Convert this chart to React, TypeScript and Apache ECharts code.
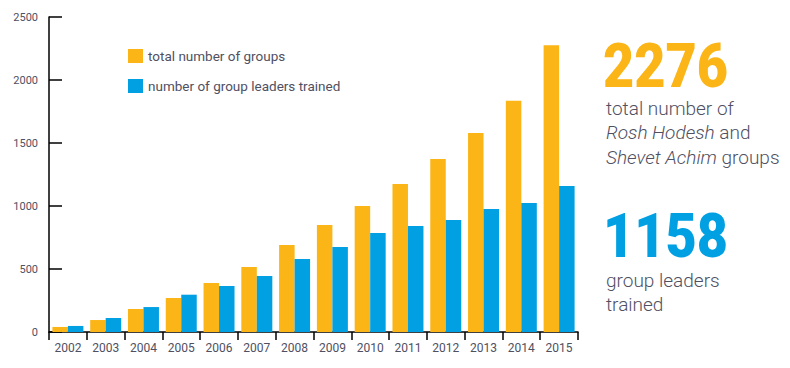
import React, { useEffect, useRef } from "react";
import * as echarts from "echarts";

const years = ["2002", "2003", "2004", "2005", "2006", "2007", "2008", "2009", "2010", "2011", "2012", "2013", "2014", "2015"];
const totalGroups = [40, 95, 183, 270, 389, 516, 690, 849, 1000, 1175, 1373, 1579, 1835, 2276];
const leadersTrained = [48, 111, 198, 296, 365, 444, 579, 675, 786, 841, 889, 976, 1024, 1158];
const seriesNames = ["total number of groups", "number of group leaders trained"];
const yTicks = { min: 0, max: 2500, interval: 500 };
const bigTotal = "2276";
const bigLeaders = "1158";

const ORANGE = "#FBB516";
const BLUE = "#00A0E3";
const TEXT = "#4F5062";
const FONT = "Roboto, 'Noto Sans', sans-serif";

export default function App() {
  const ref = useRef<HTMLDivElement>(null);
  useEffect(() => {
    if (!ref.current) return;
    const chart = echarts.init(ref.current, undefined, { renderer: "svg" });
    chart.setOption({
      animation: false,
      textStyle: { fontFamily: FONT },
      grid: { left: 49, top: 17, width: 529, height: 315 },
      legend: {
        orient: "vertical",
        left: 128,
        top: 49,
        padding: 0,
        itemWidth: 15,
        itemHeight: 14,
        itemGap: 16,
        icon: "rect",
        textStyle: { fontSize: 13.5, color: TEXT, fontFamily: FONT },
        data: seriesNames,
      },
      xAxis: {
        type: "category",
        data: years,
        axisLine: { lineStyle: { color: "#000", width: 1.5 } },
        axisTick: { show: true, length: 8, lineStyle: { color: "#000", width: 1.5 } },
        axisLabel: { fontSize: 12, color: TEXT, margin: 10, interval: 0 },
      },
      yAxis: {
        type: "value",
        min: yTicks.min,
        max: yTicks.max,
        interval: yTicks.interval,
        axisLine: { show: true, lineStyle: { color: "#000", width: 1.5 } },
        axisTick: { show: true, inside: true, length: 13, lineStyle: { color: "#000", width: 1.5 } },
        axisLabel: { fontSize: 11, color: TEXT, margin: 11, formatter: (v: number) => String(v) },
        splitLine: { show: false },
      },
      series: [
        {
          name: seriesNames[0],
          type: "bar",
          data: totalGroups,
          itemStyle: { color: ORANGE },
          barGap: "0%",
          barCategoryGap: "18%",
        },
        {
          name: seriesNames[1],
          type: "bar",
          data: leadersTrained,
          itemStyle: { color: BLUE },
          barGap: "0%",
          barCategoryGap: "18%",
        },
      ],
      graphic: [
        {
          type: "text",
          x: 603,
          y: 35,
          scaleX: 0.87,
          style: { text: bigTotal, fill: ORANGE, font: `900 62px ${FONT}` },
        },
        {
          type: "text",
          x: 606,
          y: 96,
          style: {
            text: "total number of\n{i|Rosh Hodesh} and\n{i|Shevet Achim} groups",
            fill: TEXT,
            font: `300 19px ${FONT}`,
            lineHeight: 24.5,
            rich: {
              i: { fontStyle: "italic", fontSize: 19, fontWeight: 300, fill: TEXT, lineHeight: 24.5, fontFamily: FONT },
            },
          },
        },
        {
          type: "text",
          x: 603,
          y: 205,
          scaleX: 0.87,
          style: { text: bigLeaders, fill: BLUE, font: `900 62px ${FONT}` },
        },
        {
          type: "text",
          x: 606,
          y: 268,
          style: {
            text: "group leaders\ntrained",
            fill: TEXT,
            font: `300 19px ${FONT}`,
            lineHeight: 24,
          },
        },
      ],
    });
    return () => chart.dispose();
  }, []);
  return <div ref={ref} style={{ position: "absolute", left: 0, top: 0, width: 790, height: 368 }} />;
}
